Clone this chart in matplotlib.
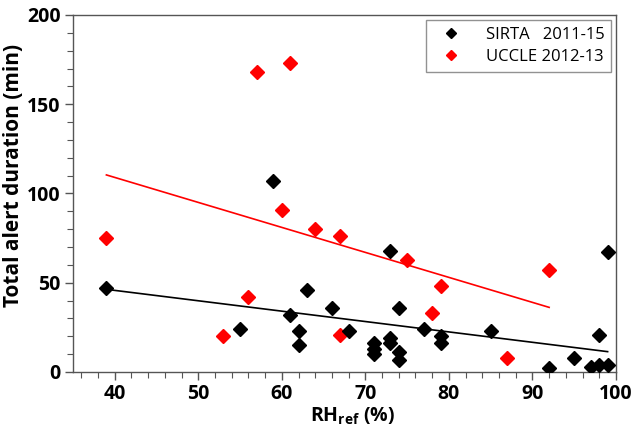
import matplotlib
matplotlib.use("Agg")
import matplotlib.pyplot as plt
from matplotlib.lines import Line2D
from matplotlib.ticker import MultipleLocator

# SIRTA 2011-15
sirta_rh = [39, 55, 59, 61, 62, 62, 63, 66, 68, 71, 71, 71, 73, 73, 73, 74, 74, 74,
            77, 79, 79, 85, 92, 95, 97, 98, 98, 99, 99]
sirta_dur = [47, 24, 107, 32, 23, 15, 46, 36, 23, 16, 13, 10, 68, 19, 16, 36, 11, 7,
             24, 20, 16, 23, 2, 8, 3, 21, 4, 4, 67]

# UCCLE 2012-13
uccle_rh = [39, 53, 56, 57, 60, 61, 64, 67, 67, 75, 78, 79, 87, 92]
uccle_dur = [75, 20, 42, 168, 91, 173, 80, 76, 21, 63, 33, 48, 8, 57]

# trend lines
sirta_fit_rh = [39, 99]
sirta_fit_dur = [46.3, 11.4]
uccle_fit_rh = [39, 92]
uccle_fit_dur = [110.4, 36.2]

plt.rcParams["font.family"] = ["Open Sans", "DejaVu Sans"]
plt.rcParams["mathtext.fontset"] = "custom"
plt.rcParams["mathtext.rm"] = "Open Sans"
plt.rcParams["mathtext.bf"] = "Open Sans:bold"

fig = plt.figure(figsize=(6.33, 4.32), dpi=100)
ax = fig.add_axes([0.1153, 0.1389, 0.8578, 0.8264])

ax.plot(uccle_fit_rh, uccle_fit_dur, color="red", lw=1.2, zorder=2)
ax.plot(sirta_fit_rh, sirta_fit_dur, color="black", lw=1.2, zorder=2)
ax.plot(uccle_rh, uccle_dur, ls="none", marker="D", ms=7.5, color="red", zorder=3)
ax.plot(sirta_rh, sirta_dur, ls="none", marker="D", ms=7.5, color="black", zorder=4)

ax.set_xlim(35, 100)
ax.set_ylim(0, 200)
ax.xaxis.set_major_locator(MultipleLocator(10))
ax.xaxis.set_minor_locator(MultipleLocator(2))
ax.yaxis.set_major_locator(MultipleLocator(50))
ax.yaxis.set_minor_locator(MultipleLocator(10))

for s in ax.spines.values():
    s.set_color("#555555")
    s.set_linewidth(1.0)
ax.tick_params(which="both", direction="out", color="#555555", top=False, right=False)
ax.tick_params(which="major", length=6, width=1.0, labelsize=14, pad=3)
ax.tick_params(which="minor", length=4, width=0.8)
for lbl in ax.get_xticklabels() + ax.get_yticklabels():
    lbl.set_fontweight("bold")

ax.set_xlabel(r"RH$_\mathbf{ref}$ (%)", fontsize=14, fontweight="bold", labelpad=1, x=0.515)
ax.set_ylabel("Total alert duration (min)", fontsize=15, fontweight="bold", labelpad=2, y=0.55)

legend_items = [
    Line2D([0], [0], ls="none", marker="D", ms=5, color="black", label="SIRTA   2011-15"),
    Line2D([0], [0], ls="none", marker="D", ms=5, color="red", label="UCCLE 2012-13"),
]
leg = ax.legend(handles=legend_items, loc="upper right", fontsize=12, frameon=True,
                fancybox=False, borderaxespad=0.3, handletextpad=1.0, labelspacing=0.4,
                borderpad=0.4, handlelength=2.2)
leg.get_frame().set_edgecolor("#777777")
leg.get_frame().set_linewidth(1.0)

fig.savefig("out.png", dpi=100)
